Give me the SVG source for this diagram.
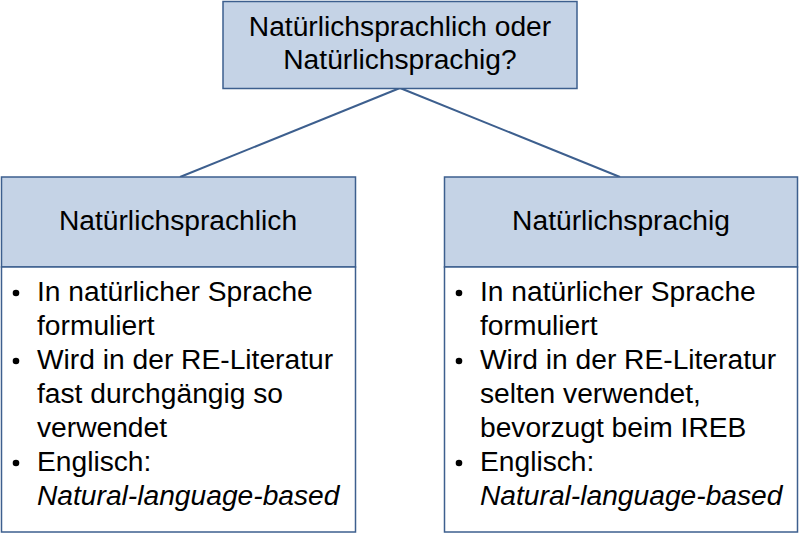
<svg xmlns="http://www.w3.org/2000/svg" width="800" height="535" viewBox="0 0 800 535">
<style>
.hd{fill:#C5D3E6;stroke:#3D5F8E;stroke-width:1.5}
.bd{fill:#FFFFFF;stroke:#3D5F8E;stroke-width:1.5}
text{font-family:"Liberation Sans",Arial,sans-serif;font-size:28.2px;fill:#000}
.c{text-anchor:middle}
.i{font-style:italic}
.cn{stroke:#3D5F8E;stroke-width:2;fill:none}
</style>
<rect width="800" height="535" fill="#FFFFFF"/>
<g id="connectors">
<line class="cn" x1="400" y1="88" x2="180" y2="177"/>
<line class="cn" x1="400" y1="88" x2="620" y2="177"/>
</g>
<g id="top">
<rect class="hd" x="223" y="1.5" width="354" height="87"/>
<text class="c" x="400" y="36">Natürlichsprachlich oder</text>
<text class="c" x="400" y="69">Natürlichsprachig?</text>
</g>
<g id="left">
<rect class="hd" x="1.5" y="177" width="354" height="90"/>
<rect class="bd" x="1.5" y="267" width="354" height="265"/>
<text class="c" x="178" y="230">Natürlichsprachlich</text>
<circle cx="16" cy="293" r="3.3"/>
<text x="37" y="301">In natürlicher Sprache</text>
<text x="37" y="335">formuliert</text>
<circle cx="16" cy="361" r="3.3"/>
<text x="37" y="369">Wird in der RE-Literatur</text>
<text x="37" y="403">fast durchgängig so</text>
<text x="37" y="437">verwendet</text>
<circle cx="16" cy="463" r="3.3"/>
<text x="37" y="471">Englisch:</text>
<text class="i" x="37" y="505">Natural-language-based</text>
</g>
<g id="right">
<rect class="hd" x="444.5" y="177" width="353" height="90"/>
<rect class="bd" x="444.5" y="267" width="353" height="265"/>
<text class="c" x="621" y="230">Natürlichsprachig</text>
<circle cx="459" cy="293" r="3.3"/>
<text x="480" y="301">In natürlicher Sprache</text>
<text x="480" y="335">formuliert</text>
<circle cx="459" cy="361" r="3.3"/>
<text x="480" y="369">Wird in der RE-Literatur</text>
<text x="480" y="403">selten verwendet,</text>
<text x="480" y="437">bevorzugt beim IREB</text>
<circle cx="459" cy="463" r="3.3"/>
<text x="480" y="471">Englisch:</text>
<text class="i" x="480" y="505">Natural-language-based</text>
</g>
</svg>
